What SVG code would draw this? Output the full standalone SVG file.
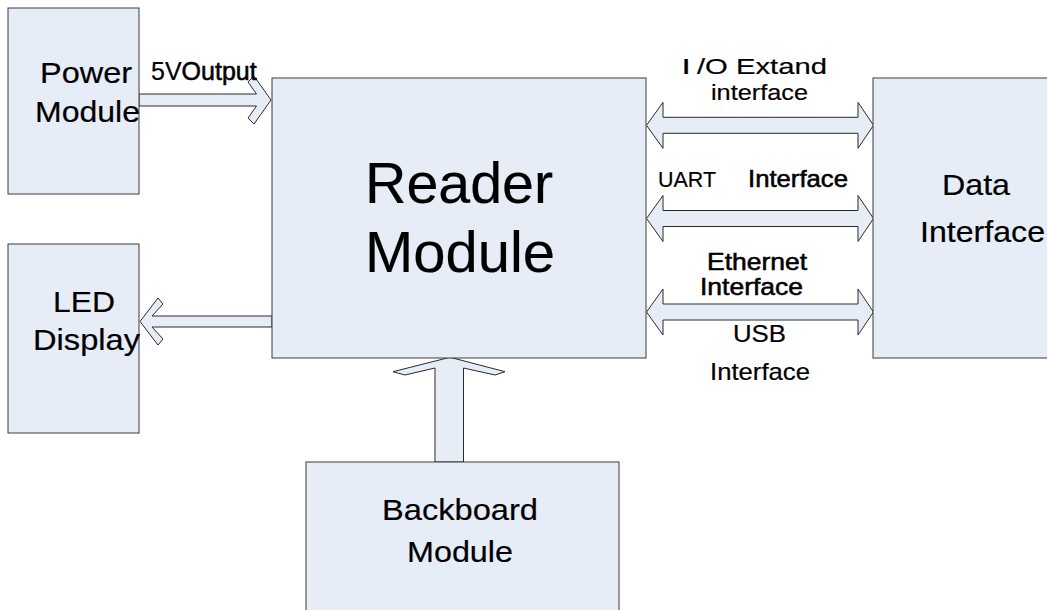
<svg xmlns="http://www.w3.org/2000/svg" width="1047" height="610" viewBox="0 0 1047 610">
<style>
.box{fill:#e7edf7;stroke:#3a3a3a;stroke-width:1}
.arr{fill:#e7edf7;stroke:#2a2a2a;stroke-width:1;stroke-linejoin:miter}
text{font-family:"Liberation Sans",Arial,sans-serif;fill:#000;stroke:#000;stroke-width:0.2}
.sb{stroke:#000;stroke-width:0.55}
</style>
<defs>
<path id="bi" d="M646.5,0 L663,-23 L663,-8 L858,-8 L858,-23 L873.5,0 L858,23 L858,8 L663,8 L663,23 Z"/>
</defs>
<rect width="1047" height="610" fill="#fff"/>
<g id="connectors">
<polygon class="arr" points="139,94 256.5,94 248,82 254,76 271,100 254,124 248,118 256.5,106 139,106"/>
<polygon class="arr" points="272,316 152,316 163,304 158,298 140,321.5 158,345 163,339 152,327 272,327"/>
<polygon class="arr" points="435,462 435,368 405,375 393,371.7 450,357.3 505,371.7 495,375 463.5,368 463.5,462"/>
<use href="#bi" class="arr" transform="translate(0,125.3)"/>
<use href="#bi" class="arr" transform="translate(0,218.5)"/>
<use href="#bi" class="arr" transform="translate(0,312)"/>
<text x="151" y="80" font-size="25">5V<tspan class="sb">Output</tspan></text>
<text y="74" font-size="22.5"><tspan x="683" font-weight="bold">I</tspan><tspan x="697" textLength="130" lengthAdjust="spacingAndGlyphs">/O Extand</tspan></text>
<text x="711" y="100" font-size="22.5" textLength="97" lengthAdjust="spacingAndGlyphs">interface</text>
<text x="658" y="187" font-size="22" textLength="58" lengthAdjust="spacingAndGlyphs">UART</text>
<text class="sb" x="748" y="187" font-size="24" textLength="100" lengthAdjust="spacingAndGlyphs">Interface</text>
<text class="sb" x="707" y="270" font-size="24" textLength="100" lengthAdjust="spacingAndGlyphs">Ethernet</text>
<text class="sb" x="700" y="295" font-size="24" textLength="103" lengthAdjust="spacingAndGlyphs">Interface</text>
<text x="733" y="342" font-size="24" textLength="53" lengthAdjust="spacingAndGlyphs">USB</text>
<text x="710" y="380" font-size="24" textLength="100" lengthAdjust="spacingAndGlyphs">Interface</text>
</g>
<g id="power">
<rect class="box" x="8" y="8" width="131" height="186"/>
<text x="40" y="83" font-size="30" textLength="92" lengthAdjust="spacingAndGlyphs">Power</text>
<text x="35" y="122" font-size="30" textLength="105" lengthAdjust="spacingAndGlyphs">Module</text>
</g>
<g id="led">
<rect class="box" x="8" y="244" width="131" height="189"/>
<text x="53" y="312" font-size="30" textLength="62" lengthAdjust="spacingAndGlyphs">LED</text>
<text x="33" y="350" font-size="30" textLength="107" lengthAdjust="spacingAndGlyphs">Display</text>
</g>
<g id="reader">
<rect class="box" x="272" y="78" width="374" height="280"/>
<text x="365" y="203" font-size="58" textLength="188" lengthAdjust="spacingAndGlyphs">Reader</text>
<text x="365" y="272" font-size="58" textLength="190" lengthAdjust="spacingAndGlyphs">Module</text>
</g>
<g id="data">
<rect class="box" x="873" y="78" width="180" height="280"/>
<text x="942" y="195" font-size="30" textLength="68" lengthAdjust="spacingAndGlyphs">Data</text>
<text x="920" y="242" font-size="30" textLength="125" lengthAdjust="spacingAndGlyphs">Interface</text>
</g>
<g id="backboard">
<rect class="box" x="306" y="462" width="313" height="160"/>
<text x="382" y="520" font-size="30" textLength="156" lengthAdjust="spacingAndGlyphs">Backboard</text>
<text x="407" y="562" font-size="30" textLength="106" lengthAdjust="spacingAndGlyphs">Module</text>
</g>
</svg>
